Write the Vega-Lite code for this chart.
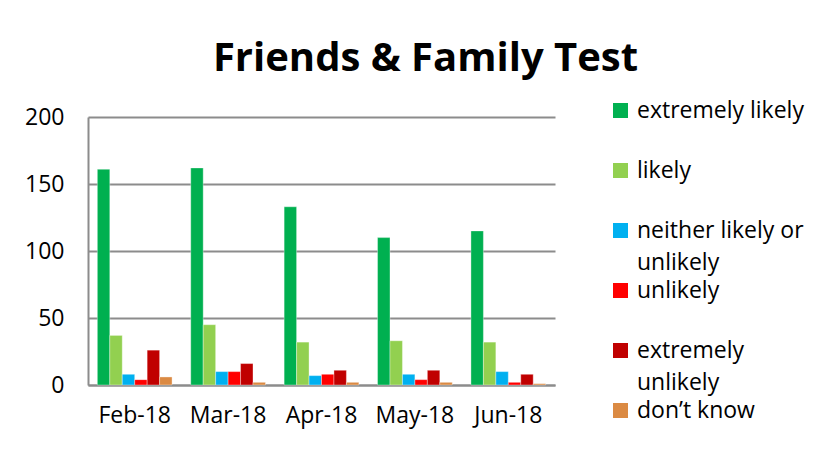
{
  "$schema": "https://vega.github.io/schema/vega-lite/v6.json",
  "width": 467,
  "height": 268,
  "autosize": {"type": "none"},
  "padding": {"left": 88, "top": 117, "right": 275, "bottom": 66},
  "background": "white",
  "title": {
    "text": "Friends & Family Test",
    "font": "Open Sans",
    "fontSize": 40,
    "fontWeight": "bold",
    "color": "black",
    "anchor": "middle",
    "frame": "group",
    "dx": 104,
    "offset": 20
  },
  "data": {
    "values": [
      {"month": "Feb-18", "response": "extremely likely", "count": 161},
      {"month": "Feb-18", "response": "likely", "count": 37},
      {"month": "Feb-18", "response": "neither likely or unlikely", "count": 8},
      {"month": "Feb-18", "response": "unlikely", "count": 4},
      {"month": "Feb-18", "response": "extremely unlikely", "count": 26},
      {"month": "Feb-18", "response": "don’t know", "count": 6},
      {"month": "Mar-18", "response": "extremely likely", "count": 162},
      {"month": "Mar-18", "response": "likely", "count": 45},
      {"month": "Mar-18", "response": "neither likely or unlikely", "count": 10},
      {"month": "Mar-18", "response": "unlikely", "count": 10},
      {"month": "Mar-18", "response": "extremely unlikely", "count": 16},
      {"month": "Mar-18", "response": "don’t know", "count": 2},
      {"month": "Apr-18", "response": "extremely likely", "count": 133},
      {"month": "Apr-18", "response": "likely", "count": 32},
      {"month": "Apr-18", "response": "neither likely or unlikely", "count": 7},
      {"month": "Apr-18", "response": "unlikely", "count": 8},
      {"month": "Apr-18", "response": "extremely unlikely", "count": 11},
      {"month": "Apr-18", "response": "don’t know", "count": 2},
      {"month": "May-18", "response": "extremely likely", "count": 110},
      {"month": "May-18", "response": "likely", "count": 33},
      {"month": "May-18", "response": "neither likely or unlikely", "count": 8},
      {"month": "May-18", "response": "unlikely", "count": 4},
      {"month": "May-18", "response": "extremely unlikely", "count": 11},
      {"month": "May-18", "response": "don’t know", "count": 2},
      {"month": "Jun-18", "response": "extremely likely", "count": 115},
      {"month": "Jun-18", "response": "likely", "count": 32},
      {"month": "Jun-18", "response": "neither likely or unlikely", "count": 10},
      {"month": "Jun-18", "response": "unlikely", "count": 2},
      {"month": "Jun-18", "response": "extremely unlikely", "count": 8},
      {"month": "Jun-18", "response": "don’t know", "count": 1}
    ]
  },
  "mark": {"type": "bar", "stroke": "white", "strokeOpacity": 0.5, "strokeWidth": 0.7},
  "encoding": {
    "x": {
      "field": "month",
      "type": "nominal",
      "sort": ["Feb-18", "Mar-18", "Apr-18", "May-18", "Jun-18"],
      "scale": {"paddingInner": 0.2, "paddingOuter": 0.1},
      "axis": {
        "title": null,
        "labelAngle": 0,
        "labelFont": "Open Sans",
        "labelFontSize": 23,
        "labelColor": "black",
        "labelPadding": 19,
        "ticks": false,
        "domainColor": "#8c8c8c",
        "domainWidth": 2
      }
    },
    "xOffset": {
      "field": "response",
      "type": "nominal",
      "sort": ["extremely likely", "likely", "neither likely or unlikely", "unlikely", "extremely unlikely", "don’t know"],
      "scale": {"paddingInner": 0, "paddingOuter": 0}
    },
    "y": {
      "field": "count",
      "type": "quantitative",
      "scale": {"domain": [0, 200]},
      "axis": {
        "title": null,
        "values": [0, 50, 100, 150, 200],
        "labelFont": "Open Sans",
        "labelFontSize": 23,
        "labelColor": "black",
        "labelPadding": 24,
        "ticks": false,
        "domainColor": "#8c8c8c",
        "domainWidth": 2,
        "gridColor": "#8c8c8c",
        "gridWidth": 2
      }
    },
    "color": {
      "field": "response",
      "type": "nominal",
      "scale": {
        "domain": ["extremely likely", "likely", "neither likely or unlikely", "unlikely", "extremely unlikely", "don’t know"],
        "range": ["#00B050", "#92D050", "#00B0F0", "#FF0000", "#C00000", "#DB8A43"]
      },
      "legend": {
        "title": null,
        "orient": "none",
        "legendX": 521,
        "legendY": -18,
        "symbolType": "square",
        "symbolSize": 225,
        "symbolStrokeWidth": 0,
        "symbolOpacity": 1,
        "labelFont": "Open Sans",
        "labelFontSize": 23,
        "labelColor": "black",
        "labelOffset": 5,
        "labelLimit": 300,
        "labelBaseline": "middle",
        "gridAlign": "all",
        "rowPadding": 4,
        "labelExpr": "datum.label == 'neither likely or unlikely' ? ['neither likely or', 'unlikely'] : datum.label == 'extremely unlikely' ? ['extremely', 'unlikely'] : datum.label"
      }
    }
  },
  "config": {
    "view": {"stroke": null},
    "style": {"guide-label": {"lineHeight": 32}}
  }
}
